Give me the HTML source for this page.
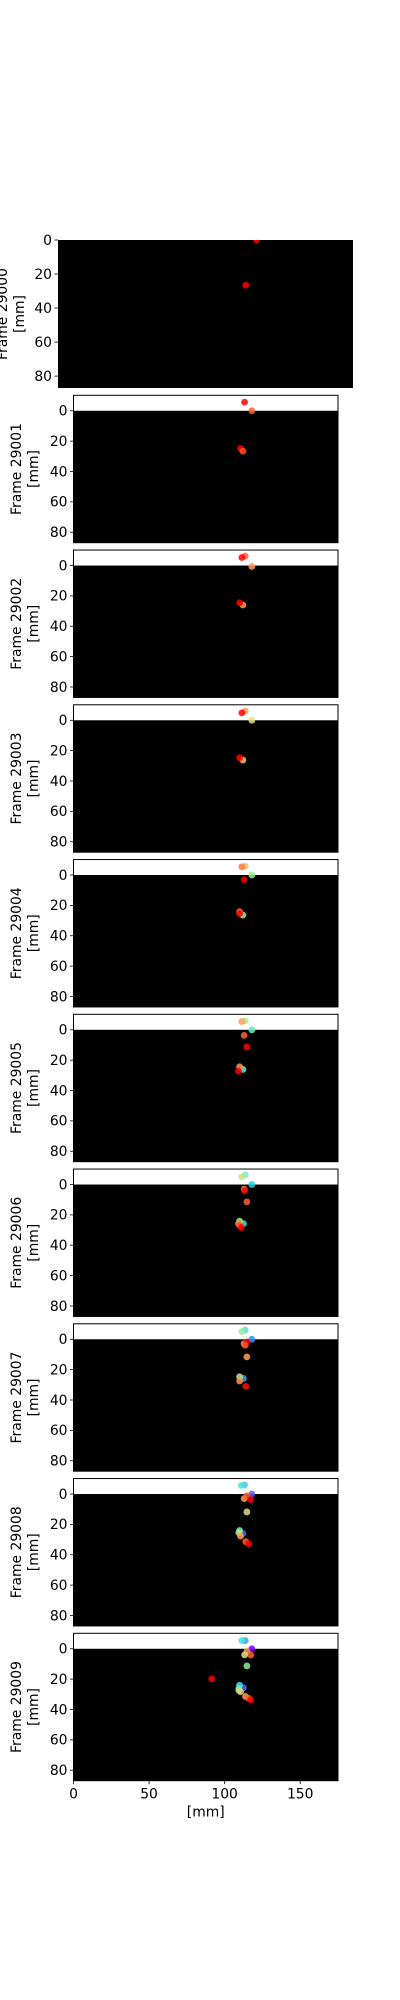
<!DOCTYPE html>
<html><head><meta charset="utf-8"><style>
html,body{margin:0;padding:0;background:#fff;}
svg{display:block;font-family:"DejaVu Sans","Liberation Sans",sans-serif;}
</style></head><body>
<svg id="chart" width="400" height="2000" viewBox="0 0 400 2000" xmlns="http://www.w3.org/2000/svg"></svg>
<script>
const frameLabels = ["Frame 29000","Frame 29001","Frame 29002","Frame 29003","Frame 29004","Frame 29005","Frame 29006","Frame 29007","Frame 29008","Frame 29009"];
const yTicks = [0,20,40,60,80];
const xTicks = [0,50,100,150];
const frame0 = [[117.8,0,"#ff0000"],[111.4,26.6,"#ff0000"]];
const frame1 = [[113.2,-5.7,"#ff0000"],[118,0,"#ff6030"],[110.5,24.8,"#ff0000"],[112.1,26.6,"#ff5020"]];
const frame2 = [[113.6,-6.3,"#ff6030"],[111.4,-5.3,"#ff0000"],[118,0.6,"#ffa050"],[112.1,26,"#ffa050"],[109.9,24.5,"#ff0000"]];
const frame3 = [[113.6,-6.2,"#ffa050"],[111.4,-4.9,"#ff0000"],[118,0,"#e0e080"],[112.1,26.2,"#f0c070"],[109.9,24.7,"#ff0000"]];
const frame4 = [[113.6,-5.8,"#e8c070"],[111.4,-5.4,"#ff7a40"],[118,0,"#90f090"],[112.9,3.1,"#ff0000"],[112.1,26.4,"#90f090"],[109.9,24.2,"#ff8040"],[109.9,25.3,"#ff0000"]];
const frame5 = [[113.6,-5.9,"#a0f0a0"],[111.4,-5.4,"#ffa060"],[118,0,"#60f0c0"],[112.9,3.7,"#ff6030"],[114.7,11.3,"#ff0000"],[112.1,26.1,"#60f0d0"],[109.9,24.4,"#ff9050"],[109.2,27.2,"#ff0000"]];
const frame6 = [[113.6,-6.4,"#70f0d0"],[111.4,-5.1,"#c8e080"],[118,0,"#20d0e0"],[112.9,3,"#ff8040"],[113.2,4,"#ff0000"],[114.7,11.4,"#ff6030"],[112.4,25.8,"#40e0e0"],[109.9,24.1,"#a0f080"],[109.2,25.8,"#ff9050"],[109.9,26.8,"#ff5030"],[111,28.3,"#ff0000"]];
const frame7 = [[113.6,-6,"#50e0e0"],[111.4,-5.1,"#90f0a0"],[118,0,"#3090f0"],[112.9,2.9,"#ff9050"],[114.7,1.8,"#ff0000"],[113.6,4,"#ff5030"],[114.7,11.6,"#ffa050"],[112.4,25.8,"#3aa0f0"],[109.9,24.7,"#b0f090"],[109.9,27.5,"#ff9050"],[114,31,"#ff1000"]];
const frame8 = [[113.2,-6,"#40c8f0"],[111,-5.6,"#50e0d0"],[118,0,"#6050f0"],[112.9,3,"#ffa050"],[114.7,1.1,"#ff6030"],[117.2,3.7,"#ff0000"],[114.7,11.8,"#e0e080"],[112.1,26,"#4070f0"],[109.9,24,"#70f0c0"],[109.4,25.5,"#b0f090"],[110.5,27.7,"#ffa050"],[114,31.4,"#ff6030"],[115.9,32.7,"#ff0000"]];
const frame9 = [[113.6,-5.4,"#40a0f0"],[111.4,-5.4,"#40e0e0"],[118,0,"#8000ff"],[114.7,1.7,"#ffa050"],[117.3,4.1,"#ff6030"],[113.2,4,"#e0e080"],[114.7,11.3,"#90f090"],[91.5,19.8,"#ff0000"],[112.5,25.7,"#6060f0"],[109.9,24,"#40e0f0"],[109.4,26.2,"#70f0c0"],[109.4,27.4,"#b0e080"],[110.5,28.3,"#e0d080"],[113.8,31.4,"#ffa050"],[116,32.7,"#ff6030"],[117.3,33.6,"#ff0000"]];
const frames = [frame0,frame1,frame2,frame3,frame4,frame5,frame6,frame7,frame8,frame9];

const NS = "http://www.w3.org/2000/svg";
const svg = document.getElementById("chart");
function mk(tag, attrs, parent){const e=document.createElementNS(NS,tag);for(const k in attrs)e.setAttribute(k,attrs[k]);(parent||svg).appendChild(e);return e;}

frames.forEach((pts, k) => {
  let L,W,T,H,ymin,ymax,xmax=175;
  if(k===0){L=58;W=295;T=240;H=148;ymin=0;ymax=87;}
  else{L=73.5;W=264.5;T=395.3+154.75*(k-1);H=147.4;ymin=-10.2;ymax=86.9;}
  const sx = v => L + v/xmax*W;
  const sy = v => T + (v-ymin)/(ymax-ymin)*H;
  const g = mk("g",{});
  
  
  const cid = "clip"+k;
  const cp = mk("clipPath",{id:cid},g);
  mk("rect",{x:L,y:T,width:W,height:H},cp);
  mk("rect",{x:L,y:T,width:W,height:H,fill:"#fff"},g);
  const bg = mk("rect",{x:L,y:sy(0),width:W,height:T+H-sy(0),fill:"#000"},g);
  
  
  if(k>0){mk("rect",{x:L,y:T,width:W,height:H,fill:"none",stroke:"#000","stroke-width":1},g);}
  const pg = mk("g",{"clip-path":"url(#"+cid+")"},g);
  pts.forEach(p => {
    const c = mk("circle",{cx:sx(p[0]),cy:sy(p[1]),r:3.4,fill:p[2],"fill-opacity":0.85},pg);
    
    
  });
  yTicks.forEach(t => {
    const y = sy(t);
    mk("line",{x1:L-3.5,x2:L,y1:y,y2:y,stroke:"#000","stroke-width":0.8},g);
    const tx = mk("text",{x:L-6,y:y+4.8,"text-anchor":"end","font-size":"13.9px",fill:"#000"},g);
    tx.textContent = t;
    
    
  });
  const cy = T + H/2;
  const lx = k===0 ? 2 : 16;
  const t1 = mk("text",{x:lx,y:cy,"text-anchor":"middle","font-size":"13.9px",transform:"rotate(-90 "+(lx)+" "+cy+")",dy:"5"},g);
  t1.textContent = frameLabels[k];
  
  
  const lx2 = lx+17;
  const t2 = mk("text",{x:lx2,y:cy,"text-anchor":"middle","font-size":"13.9px",transform:"rotate(-90 "+lx2+" "+cy+")",dy:"5"},g);
  t2.textContent = "[mm]";
  
  
  if(k===9){
    xTicks.forEach(t => {
      const x = sx(t);
      mk("line",{x1:x,x2:x,y1:T+H,y2:T+H+3.5,stroke:"#000","stroke-width":0.8},g);
      const tx = mk("text",{x:x,y:T+H+18,"text-anchor":"middle","font-size":"13.9px"},g);
      tx.textContent = t;
      
      
    });
    const xt = mk("text",{x:L+W/2,y:T+H+36,"text-anchor":"middle","font-size":"13.9px"},g);
    xt.textContent = "[mm]";
    
    
  }
});
</script>
</body></html>
